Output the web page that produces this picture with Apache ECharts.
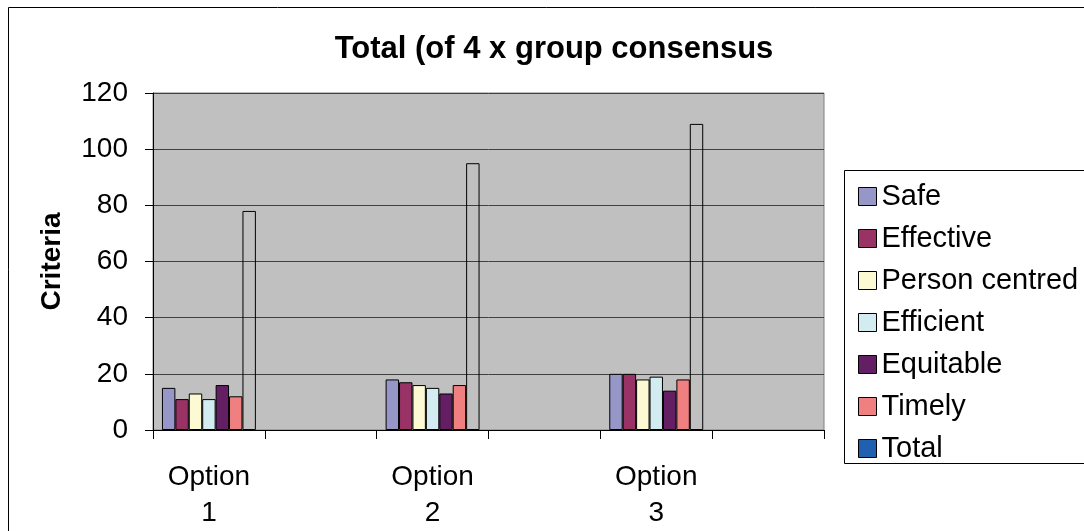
<!DOCTYPE html>
<html>
<head>
<meta charset="utf-8">
<script src="https://cdn.jsdelivr.net/npm/echarts@6/dist/echarts.min.js"></script>
<style>
html,body{margin:0;padding:0;background:#fff;}
#chart{width:1084px;height:531px;}
</style>
</head>
<body>
<div id="chart"></div>
<script>
var options = ['Option\n1', 'Option\n2', 'Option\n3'];
var seriesNames = ['Safe', 'Effective', 'Person centred', 'Efficient', 'Equitable', 'Timely', 'Total'];
var safe = [15, 18, 20];
var effective = [11, 17, 20];
var personCentred = [13, 16, 18];
var efficient = [11, 15, 19];
var equitable = [16, 13, 14];
var timely = [12, 16, 18];
var total = [78, 95, 109];
var yTicks = [0, 20, 40, 60, 80, 100, 120];

var colors = ['#9696C8', '#993366', '#FCFAD2', '#D2ECF2', '#641E64', '#F08080', '#2060B0'];
var values = [safe, effective, personCentred, efficient, equitable, timely, total];

// each option is followed by an empty category slot (as in the original)
var categories = [];
options.forEach(function (o) { categories.push(o); categories.push(''); });
function expand(arr) {
  var out = [];
  arr.forEach(function (v) { out.push(v); out.push(null); });
  return out;
}

var FONT = '"Liberation Sans", Arial, sans-serif';

var series = seriesNames.map(function (name, i) {
  var isTotal = name === 'Total';
  return {
    name: name,
    type: 'bar',
    data: expand(values[i]),
    barGap: 0,
    barCategoryGap: '16%',
    itemStyle: {
      color: isTotal ? 'rgba(0,0,0,0)' : colors[i],
      borderColor: '#000',
      borderWidth: 1
    },
    emphasis: { disabled: true },
    animation: false
  };
});

var chart = echarts.init(document.getElementById('chart'), null, { renderer: 'canvas' });
chart.setOption({
  animation: false,
  backgroundColor: '#fff',
  textStyle: { fontFamily: FONT },
  title: {
    text: 'Total (of 4 x group consensus',
    left: 549,
    top: 29,
    textAlign: 'center',
    textStyle: { fontFamily: FONT, fontSize: 31, fontWeight: 'bold', color: '#000' }
  },
  graphic: [
    { type: 'rect', z: 0, shape: { x: 8.5, y: 7.5, width: 1200, height: 700 }, style: { fill: 'none', stroke: '#000', lineWidth: 1 } },
    { type: 'rect', z: 0, shape: { x: 844.5, y: 170.5, width: 300, height: 293 }, style: { fill: '#fff', stroke: '#000', lineWidth: 1 } }
  ],
  legend: {
    orient: 'vertical',
    left: 853,
    top: 177,
    itemWidth: 18,
    itemHeight: 18,
    itemGap: 13,
    icon: 'rect',
    textStyle: { fontFamily: FONT, fontSize: 29, color: '#000' },
    data: seriesNames.map(function (n, i) {
      return { name: n, itemStyle: { color: colors[i], borderColor: '#000', borderWidth: 1 } };
    }),
    selectedMode: false
  },
  grid: {
    left: 153,
    right: 260,
    top: 93,
    bottom: 100,
    show: true,
    backgroundColor: '#C0C0C0',
    borderColor: '#808080',
    borderWidth: 1
  },
  xAxis: {
    type: 'category',
    data: categories,
    boundaryGap: true,
    axisLine: { lineStyle: { color: '#000', width: 1 } },
    axisTick: { show: true, length: 9, interval: 0, lineStyle: { color: '#000' } },
    axisLabel: { interval: 0, margin: 29, fontSize: 28, lineHeight: 36, color: '#000', fontFamily: FONT },
    splitLine: { show: false }
  },
  yAxis: {
    type: 'value',
    min: yTicks[0],
    max: yTicks[yTicks.length - 1],
    interval: 20,
    name: 'Criteria',
    nameLocation: 'middle',
    nameRotate: 90,
    nameGap: 87,
    nameTextStyle: { fontFamily: FONT, fontSize: 28, fontWeight: 'bold', color: '#000' },
    axisLine: { show: true, lineStyle: { color: '#000', width: 1 } },
    axisTick: { show: true, length: 8, lineStyle: { color: '#000' } },
    axisLabel: { margin: 25, fontSize: 28, color: '#000', fontFamily: FONT },
    splitLine: { show: true, lineStyle: { color: '#404040', width: 1 } }
  },
  series: series
});
</script>
</body>
</html>
